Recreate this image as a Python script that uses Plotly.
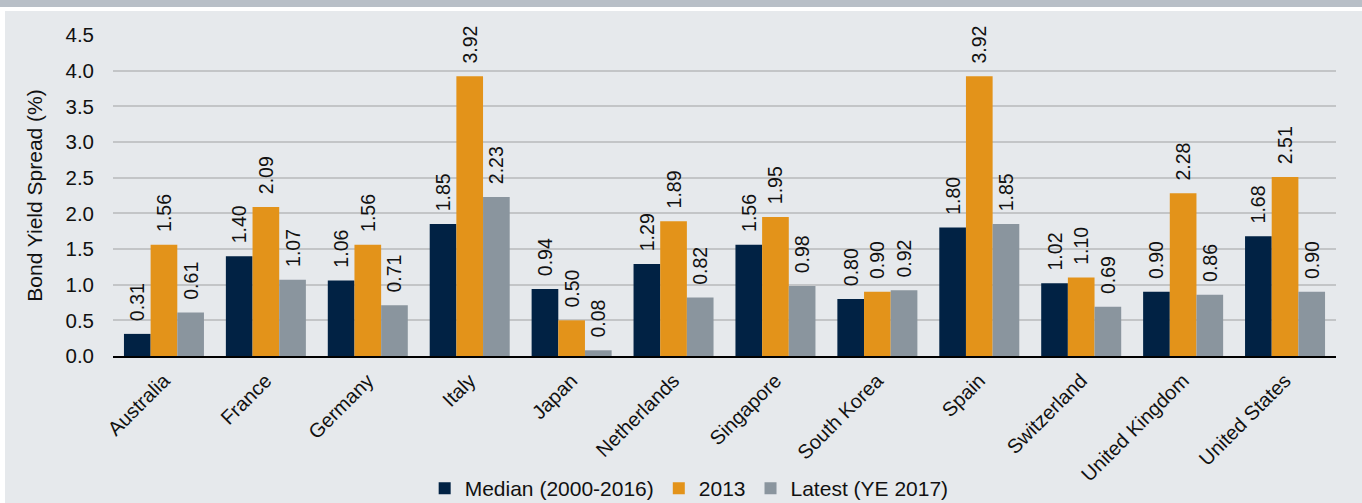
import plotly.graph_objects as go

countries = ["Australia", "France", "Germany", "Italy", "Japan", "Netherlands",
             "Singapore", "South Korea", "Spain", "Switzerland", "United Kingdom", "United States"]
median_vals = [0.31, 1.40, 1.06, 1.85, 0.94, 1.29, 1.56, 0.80, 1.80, 1.02, 0.90, 1.68]
y2013_vals = [1.56, 2.09, 1.56, 3.92, 0.50, 1.89, 1.95, 0.90, 3.92, 1.10, 2.28, 2.51]
latest_vals = [0.61, 1.07, 0.71, 2.23, 0.08, 0.82, 0.98, 0.92, 1.85, 0.69, 0.86, 0.90]
series_names = ["Median (2000-2016)", "2013", "Latest (YE 2017)"]
colors = ["#012244", "#e3931a", "#8a959e"]
y_ticks = [0.0, 0.5, 1.0, 1.5, 2.0, 2.5, 3.0, 3.5, 4.0, 4.5]

W, H = 1362, 503
ML, MR, MT, MB = 113, 26, 35, 147
PW, PH = W - ML - MR, H - MT - MB

def px2x(px):
    return (px - ML) / PW

def py2y(py):
    return (H - MB - py) / PH

FONT = "Liberation Sans, Arial, sans-serif"
TXT = "#111111"

fig = go.Figure()
for name, vals, c in zip(series_names, [median_vals, y2013_vals, latest_vals], colors):
    fig.add_trace(go.Bar(
        x=countries, y=vals, name=name,
        marker=dict(color=c, line=dict(width=0)),
        text=["\u2002" + f"{v:.2f}" for v in vals],
        textposition="outside", textangle=-90,
        textfont=dict(family=FONT, size=19.5, color=TXT),
        constraintext="none", cliponaxis=False,
        hovertemplate="%{x}: %{y:.2f}<extra>" + name + "</extra>",
    ))

shapes = [
    dict(type="rect", xref="paper", yref="paper", x0=px2x(0), x1=px2x(W), y0=py2y(7), y1=py2y(0),
         fillcolor="#b8bfc7", line=dict(width=0), layer="below"),
    dict(type="rect", xref="paper", yref="paper", x0=px2x(0), x1=px2x(W), y0=py2y(11), y1=py2y(7),
         fillcolor="#ffffff", line=dict(width=0), layer="below"),
    dict(type="rect", xref="paper", yref="paper", x0=px2x(0), x1=px2x(5), y0=py2y(H), y1=py2y(11),
         fillcolor="#ffffff", line=dict(width=0), layer="below"),
]

fig.update_layout(
    width=W, height=H,
    margin=dict(l=ML, r=MR, t=MT, b=MB, pad=0, autoexpand=False),
    paper_bgcolor="#e6e9ec", plot_bgcolor="#e6e9ec",
    font=dict(family=FONT, size=20, color=TXT),
    barmode="group", bargap=0.215, bargroupgap=0,
    shapes=shapes,
    showlegend=True,
    legend=dict(orientation="h", x=0.506, xref="container", xanchor="center",
                y=(H - 468) / H, yref="container", yanchor="top", font=dict(size=21),
                itemwidth=30, tracegroupgap=0, bgcolor="rgba(0,0,0,0)"),
    xaxis=dict(tickangle=-45, tickfont=dict(size=20), showgrid=False,
               showline=True, linecolor="#000000", linewidth=2,
               ticks="", ticklabelstandoff=3, automargin=False),
    yaxis=dict(range=[0, 4.5], tickvals=y_ticks, ticktext=[f"{t:.1f}" for t in y_ticks],
               tickfont=dict(size=20.5),
               showgrid=True, gridcolor="#c3c5c7", gridwidth=2, automargin=False,
               zeroline=False, ticks="", ticklabelstandoff=18,
               title=dict(text="Bond Yield Spread (%)", font=dict(size=21), standoff=17)),
)

fig.write_html("out.html", config={"displayModeBar": False},
               post_script="document.body.style.margin='0';document.body.style.padding='0';")
